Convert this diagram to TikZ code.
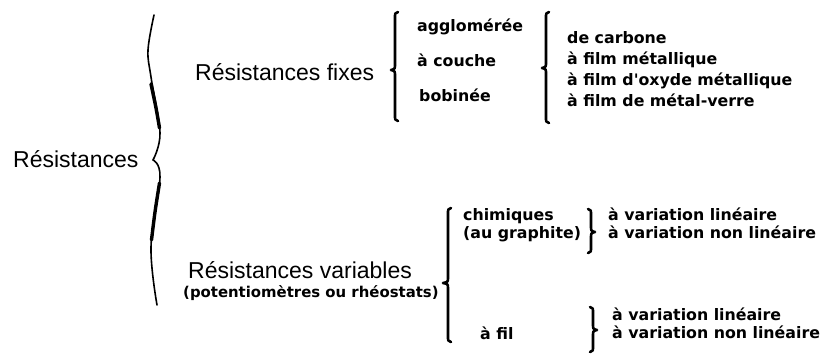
\documentclass[tikz,border=0pt]{standalone}
\usepackage{fontspec}
\setmainfont{Liberation Sans}
\newfontfamily\labfont{DejaVu Sans}
\newcommand\BrL[5]{% arm x, top y, cusp y, bottom y, amplitude
  \draw[brc] (#1+3,#2) .. controls (#1,#2+1) .. (#1,#2+6) -- (#1,#3-6)
    .. controls (#1,#3-1) .. (#1-#5,#3) .. controls (#1,#3+1) .. (#1,#3+6)
    -- (#1,#4-6) .. controls (#1,#4-1) .. (#1+3,#4);}
\newcommand\BrR[5]{%
  \draw[brc] (#1-3,#2) .. controls (#1,#2+1) .. (#1,#2+6) -- (#1,#3-6)
    .. controls (#1,#3-1) .. (#1+#5,#3) .. controls (#1,#3+1) .. (#1,#3+6)
    -- (#1,#4-6) .. controls (#1,#4-1) .. (#1-3,#4);}
\tikzset{
  big/.style={inner sep=0pt, anchor=base west, font=\fontsize{23}{27}\selectfont},
  lab/.style={inner sep=0pt, anchor=base west, font=\labfont\bfseries\fontsize{15.8}{19}\selectfont},
  labs/.style={lab, font=\labfont\bfseries\fontsize{14.9}{18}\selectfont},
  brc/.style={line width=2.6pt, line cap=round, line join=round},
}
\begin{document}
\begin{tikzpicture}[x=1pt, y=-1pt]
\useasboundingbox[fill=white] (0,0) rectangle (823,354);

% level 0
\node[big] (res) at (13,167) {Résistances};

% big brace
\draw[line width=1.6pt, line cap=round] plot[smooth, tension=0.6] coordinates {(154,15) (148,50) (151,77) (160,133) (153,160)};
\draw[line width=1.6pt, line cap=round] plot[smooth, tension=0.6] coordinates {(153,160) (160,177) (151,247) (157,305)};
\draw[line width=3.4pt, line cap=round] plot[smooth] coordinates {(151,84) (156,108) (159.5,128)};
\draw[line width=3.4pt, line cap=round] plot[smooth] coordinates {(159.5,183) (155,212) (151.5,240)};

% level 1
\node[big] (fixes) at (195,80) {Résistances fixes};
\node[big] (var) at (188,278) {Résistances variables};
\node[labs] (pot) at (183,297) {(potentiomètres ou rhéostats)};

% fixed branch
\BrL{395}{12}{70}{121}{4}
\node[lab] (agg) at (417,31) {agglomérée};
\node[lab] (cou) at (417,66) {à couche};
\node[lab] (bob) at (419,101) {bobinée};

\BrL{546}{12}{68}{123}{4}
\node[lab] (carb) at (567,43) {de carbone};
\node[lab] (met) at (567,64) {à film métallique};
\node[lab] (oxy) at (567,85) {à film d'oxyde métallique};
\node[lab] (verre) at (567,106) {à film de métal-verre};

% variable branch
\BrL{448}{208}{283}{342}{5}
\node[lab] (chim) at (463,220) {chimiques};
\node[lab] (graph) at (463,238) {(au graphite)};
\node[lab] (fil) at (480,339) {à fil};

\BrR{591}{209}{232}{253}{4}
\node[lab] (lin1) at (608,220) {à variation linéaire};
\node[lab] (nlin1) at (608,238) {à variation non linéaire};

\BrR{593}{307}{330}{352}{4}
\node[lab] (lin2) at (612,320) {à variation linéaire};
\node[lab] (nlin2) at (612,338) {à variation non linéaire};
\end{tikzpicture}
\end{document}
